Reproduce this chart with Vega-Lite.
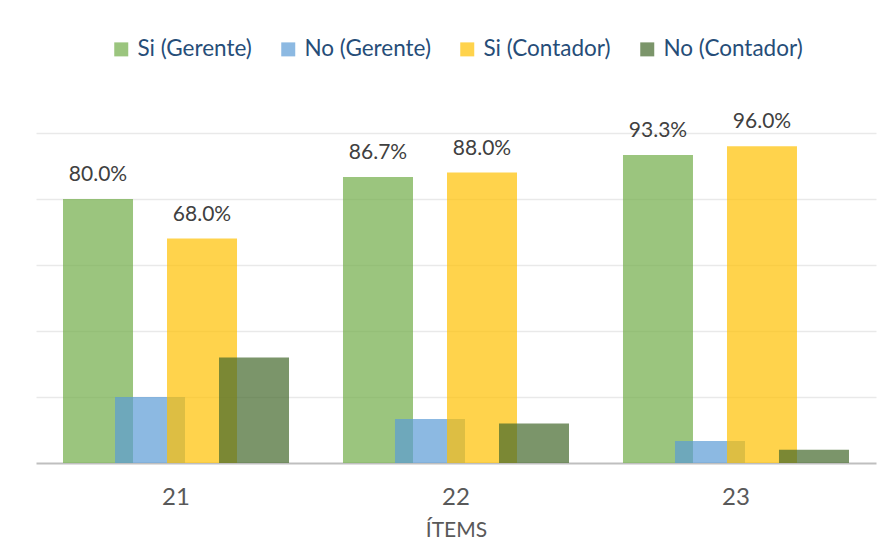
{
  "$schema": "https://vega.github.io/schema/vega-lite/v6.json",
  "autosize": {"type": "none"},
  "width": 840,
  "height": 330,
  "padding": {"left": 36, "top": 133, "right": 5, "bottom": 77},
  "background": "white",
  "config": {
    "view": {"stroke": null},
    "font": "Lato"
  },
  "data": {
    "values": [
      {"item": "21", "serie": "Si (Gerente)", "valor": 0.800},
      {"item": "21", "serie": "No (Gerente)", "valor": 0.200},
      {"item": "21", "serie": "Si (Contador)", "valor": 0.680},
      {"item": "21", "serie": "No (Contador)", "valor": 0.320},
      {"item": "22", "serie": "Si (Gerente)", "valor": 0.867},
      {"item": "22", "serie": "No (Gerente)", "valor": 0.133},
      {"item": "22", "serie": "Si (Contador)", "valor": 0.880},
      {"item": "22", "serie": "No (Contador)", "valor": 0.120},
      {"item": "23", "serie": "Si (Gerente)", "valor": 0.933},
      {"item": "23", "serie": "No (Gerente)", "valor": 0.067},
      {"item": "23", "serie": "Si (Contador)", "valor": 0.960},
      {"item": "23", "serie": "No (Contador)", "valor": 0.040}
    ]
  },
  "encoding": {
    "x": {
      "field": "item",
      "type": "nominal",
      "scale": {"paddingInner": 0.2571, "paddingOuter": 0.1286},
      "axis": {
        "title": "ÍTEMS",
        "labelAngle": 0,
        "labelFontSize": 24,
        "labelColor": "#595959",
        "labelPadding": 22,
        "ticks": false,
        "domainColor": "#bfbfbf",
        "domainWidth": 2,
        "titleFontSize": 21,
        "titleFontWeight": "normal",
        "titleColor": "#595959",
        "titlePadding": 10
      }
    },
    "xOffset": {
      "field": "serie",
      "type": "nominal",
      "sort": ["Si (Gerente)", "No (Gerente)", "Si (Contador)", "No (Contador)"],
      "scale": {
        "domain": ["Si (Gerente)", "No (Gerente)", "Si (Contador)", "No (Contador)"],
        "paddingInner": 0,
        "paddingOuter": 0
      }
    },
    "y": {
      "field": "valor",
      "type": "quantitative",
      "scale": {"domain": [0, 1], "nice": false},
      "axis": {
        "title": null,
        "labels": false,
        "ticks": false,
        "domain": false,
        "values": [0.2, 0.4, 0.6, 0.8, 1.0],
        "gridColor": "#e9e9e9",
        "gridWidth": 1.5
      }
    }
  },
  "layer": [
    {
      "mark": {"type": "bar", "opacity": 0.7, "width": 70},
      "encoding": {
        "color": {
          "field": "serie",
          "type": "nominal",
          "scale": {
            "domain": ["Si (Gerente)", "No (Gerente)", "Si (Contador)", "No (Contador)"],
            "range": ["#70AD47", "#5B9BD5", "#FFC000", "#43682B"]
          },
          "legend": {
            "title": null,
            "orient": "none",
            "direction": "horizontal",
            "legendX": 74,
            "legendY": -95,
            "symbolType": "square",
            "symbolSize": 196,
            "symbolStrokeWidth": 0,
            "labelFontSize": 22.5,
            "labelColor": "#264d78",
            "labelOffset": 5,
            "columnPadding": 25
          }
        }
      }
    },
    {
      "transform": [{"filter": "indexof(datum.serie, 'Si') === 0"}],
      "mark": {"type": "text", "baseline": "bottom", "dy": -14, "fontSize": 21, "color": "#404040"},
      "encoding": {
        "text": {"field": "valor", "type": "quantitative", "format": ".1%"}
      }
    }
  ]
}
